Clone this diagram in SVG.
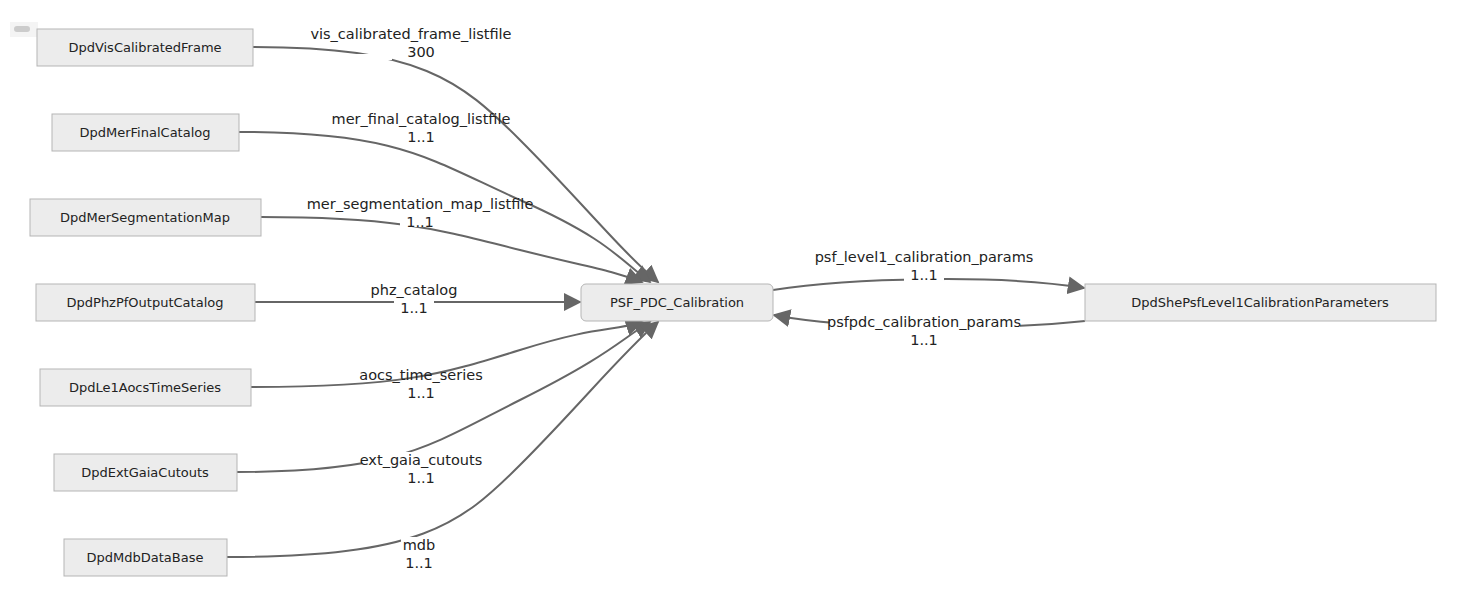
<svg xmlns="http://www.w3.org/2000/svg" width="1464" height="596" viewBox="0 0 1464 596">
<style>
.n rect{fill:#ececec;stroke:#b5b5b5;stroke-width:1}
text{font-family:"DejaVu Sans","Liberation Sans",sans-serif;font-size:13px;fill:#222;text-anchor:middle}
#labels text{font-size:14.5px}
.e path{fill:none;stroke:#666;stroke-width:2;marker-end:url(#b)}
.lb{fill:#fff}
</style>
<defs>
<marker id="b" viewBox="0 0 10 10" refX="9" refY="5" markerWidth="9" markerHeight="9" orient="auto"><path d="M0,0L10,5L0,10z" fill="#666"/></marker></defs>
<rect x="10" y="22" width="28" height="15" fill="#f4f4f4"/><rect x="14" y="26" width="16" height="6" rx="3" fill="#ccc"/>
<g class="e">
<path d="M253,47 C420,47 460,80 520,140 S620,250 658,282"/>
<path d="M239,132 C400,132 430,160 520,200 S620,260 650,282"/>
<path d="M261,217 C400,217 440,230 520,250 S610,270 642,282"/>
<path d="M255,302 L580,302"/>
<path d="M251,387 C400,387 440,375 520,350 S610,332 642,322"/>
<path d="M237,472 C400,472 430,445 520,400 S620,340 650,322"/>
<path d="M227,557 C420,557 460,525 520,465 S620,355 658,322"/>
<path d="M773,290 C850,278 1000,274 1084,288"/>
<path d="M1085,321 C1000,330 850,330 774,315"/>
</g>
<g id="labels">
<rect class="lb" x="352" y="54" width="40" height="6"/>
<text x="411" y="39">vis_calibrated_frame_listfile</text><text x="421" y="57">300</text>
<text x="421" y="124">mer_final_catalog_listfile</text><rect class="lb" x="400" y="128" width="42" height="14"/><text x="421" y="142">1..1</text>
<text x="420" y="209">mer_segmentation_map_listfile</text><rect class="lb" x="400" y="213" width="40" height="14"/><text x="420" y="227">1..1</text>
<rect class="lb" x="366" y="282" width="96" height="14"/><text x="414" y="295">phz_catalog</text><rect class="lb" x="394" y="298" width="40" height="14"/><text x="414" y="313">1..1</text>
<text x="421" y="380">aocs_time_series</text><text x="421" y="398">1..1</text>
<rect class="lb" x="362" y="452" width="118" height="14"/><text x="421" y="465">ext_gaia_cutouts</text><text x="421" y="483">1..1</text>
<rect class="lb" x="401" y="537" width="36" height="14"/><text x="419" y="550">mdb</text><text x="419" y="568">1..1</text>
<text x="924" y="262">psf_level1_calibration_params</text><rect class="lb" x="904" y="267" width="40" height="14"/><text x="924" y="280">1..1</text>
<rect class="lb" x="830" y="315" width="190" height="14"/><text x="924" y="327">psfpdc_calibration_params</text><text x="924" y="345">1..1</text>
</g>
<g class="n" id="n1"><rect x="37" y="29" width="216" height="37"/><text x="145" y="52">DpdVisCalibratedFrame</text></g>
<g class="n" id="n2"><rect x="52" y="114" width="187" height="37"/><text x="145" y="137">DpdMerFinalCatalog</text></g>
<g class="n" id="n3"><rect x="30" y="199" width="231" height="37"/><text x="145" y="222">DpdMerSegmentationMap</text></g>
<g class="n" id="n4"><rect x="36" y="284" width="219" height="37"/><text x="145" y="307">DpdPhzPfOutputCatalog</text></g>
<g class="n" id="n5"><rect x="40" y="369" width="211" height="37"/><text x="145" y="392">DpdLe1AocsTimeSeries</text></g>
<g class="n" id="n6"><rect x="54" y="454" width="183" height="37"/><text x="145" y="477">DpdExtGaiaCutouts</text></g>
<g class="n" id="n7"><rect x="64" y="539" width="163" height="37"/><text x="145" y="562">DpdMdbDataBase</text></g>
<g class="n" id="center"><rect x="581" y="284" width="192" height="37" rx="5"/><text x="677" y="307">PSF_PDC_Calibration</text></g>
<g class="n" id="right"><rect x="1085" y="284" width="351" height="37"/><text x="1260" y="307">DpdShePsfLevel1CalibrationParameters</text></g>
</svg>
